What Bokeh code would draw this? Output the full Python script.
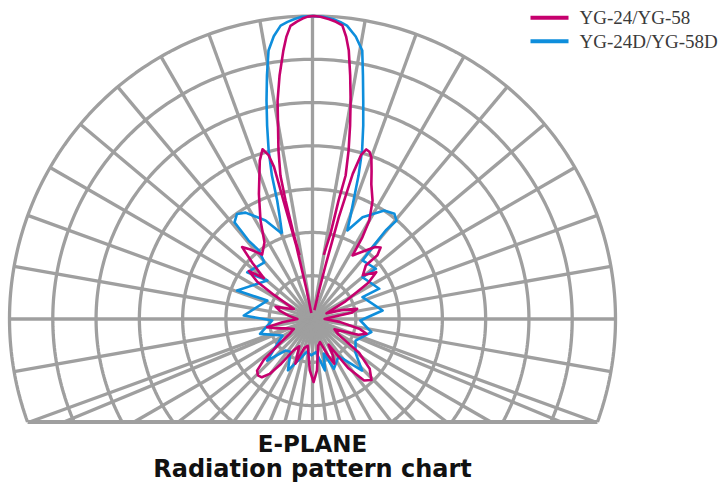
import numpy as np
from bokeh.plotting import figure
from bokeh.models import Range1d, Label
from bokeh.embed import file_html
from bokeh.resources import INLINE

# ---------------- data ----------------
series_names = ["YG-24/YG-58", "YG-24D/YG-58D"]
series_colors = ["#C6006E", "#0E8EDC"]
ring_levels = [1, 2, 3, 4, 5, 6, 7]                        # concentric rings (7 = outer)
spoke_angles_upper = list(range(-20, 201, 10))             # radial lines, 10 deg apart
spoke_angles_lower = [202.5 + 7.5 * k for k in range(19)]  # denser fan towards the base line
title_lines = ["E-PLANE", "Radiation pattern chart"]

# (angle in degrees, 90 = boresight ; level in % of full scale), in drawing order
mag_main_theta = [101.5, 102.5, 102.8, 102.6, 101.4, 100.1, 99.1, 97.7, 96.2, 95.3, 94.3, 93.0, 91.9, 90.9, 89.7,
                  88.5, 86.8, 85.5, 84.2, 83.2, 82.3, 81.2, 80.1, 79.0, 77.9, 77.0, 77.6, 78.1, 80.0]
mag_main_r = [21.5, 28.9, 40.1, 48.5, 56.8, 64.9, 72.9, 81.1, 89.1, 93.5, 97.0, 98.3, 99.2, 99.8, 100.0,
              99.8, 99.1, 98.4, 97.4, 93.8, 89.4, 81.3, 73.2, 65.0, 56.8, 48.6, 40.0, 28.7, 21.5]

mag_side_theta = [78, 77, 76.4, 75.5, 74.5, 73.5, 72.4, 71.2, 70, 68.2, 66.4, 63.1, 60, 58.6, 57.8,
                  53, 49, 46.4, 44.5, 45.1, 41, 36.3, 33, 28, 22, 17, 12.8, 9, 5, 0, -6, -12, -15.3, -19, -25,
                  -31, -36, -41, -46, -50, -54, -58, -61, -64, -67, -72, -78, -85, -89, -93, -100, -106, -111,
                  -116, -121, -125, -128, -131, -134, -137, -140, -143, -147, -152, -160, -165, -169.7, -174, -180,
                  -188, -194, -198.5, -203, -208, -212, -214, -217, -220, -223, -225.6, -228, -232, -238, -242.2,
                  -246.8, -251.6, -253.6, -255, -255.8, -256.2, -257.5, -258.5, -259]
mag_side_r = [3, 10, 17.5, 34.7, 49.7, 56.5, 58.7, 58.3, 56.8, 52.5, 48.5, 43.8, 37.5, 31.6, 24.8,
              28, 31.5, 32.6, 30, 24.9, 22, 26.1, 22, 12, 5, 10, 15.1, 13, 6, 4, 9, 16, 18.5, 16, 8,
              10, 19, 25, 28, 26.5, 20, 10, 14, 16.4, 13, 8, 9, 17, 20.8, 17, 9, 10, 15.8,
              10, 12, 18, 23, 25.5, 25.9, 25, 21, 14, 9, 7, 9, 12, 15.2, 10, 5,
              8, 11, 12.8, 9, 7, 15, 22, 26.3, 21, 27, 33.2, 31, 27, 29.9, 36.8,
              44.9, 55.1, 58.4, 56, 51.7, 40.3, 25, 10, 2]

blue_theta = [109.6, 107.7, 106.6, 105.8, 104.6, 103.2, 101.9, 100.6, 99.3, 97.8, 96.2, 94.8, 93.4, 92.0, 90, 88.0,
              86.0, 84.6, 83.3, 81.3, 79.5, 78.3, 76.9, 75.3, 73.6, 72.2, 70.9, 69.8, 68.5,
              63.8, 56.5, 52.1, 49.5, 50.4, 50.1, 49.5,
              38.4, 39.9, 24.4, 23.6, 6.9, -1.8, -12.6, -26.6, -38, -46.1,
              -55, -66.8, -72, -76.4, -84, -92, -100, -108, -115.5, -124, -130.6, -137.5, -151.2, -164.2,
              -177.9, -182.9, -202.2, -200.7, -220.4, -215.6, -229.6, -232, -230.8, -231.1, -234.3, -237.8,
              -244.5, -250.4]
blue_r = [29.9, 35.8, 40.8, 49.2, 57.4, 65.6, 73.6, 81.7, 89.8, 94.2, 97.4, 98.4, 99.2, 99.8, 100, 99.8,
          99.2, 98.4, 97.5, 94.3, 90.1, 82.1, 73.9, 66.0, 58.0, 49.7, 41.4, 36.4, 31.4,
          37.4, 42.9, 44.0, 42.7, 38.0, 30.9, 25.4,
          26.7, 21.5, 24.2, 18.0, 23.3, 15.8, 19.9, 15.9, 18, 23.6,
          15, 17.9, 12, 17.5, 11, 12, 11, 14, 18.8, 13, 13.7, 20.3, 11.3, 18.0,
          13.3, 22.7, 16.1, 26.6, 19.6, 26.5, 24.5, 28.7, 33.4, 41.0, 42.7, 41.5,
          36, 29.9]

# ---------------- geometry ----------------
W, H = 727, 484
CX, CY = 312.0, 165.5      # pole of the polar grid (data px)
R = 303.0                  # outer ring radius
D = 103.0                  # depth of the base line below the pole
GRID = "#9F9F9F"

p = figure(width=W, height=H, x_range=Range1d(0, W), y_range=Range1d(0, H),
           output_backend="svg", toolbar_location=None, min_border=0)
p.axis.visible = False
p.grid.visible = False
p.outline_line_color = None

# rings
ring_xs, ring_ys = [], []
for k in ring_levels:
    rr = k / max(ring_levels) * R
    if rr <= D:
        a = np.linspace(0, 2 * np.pi, 241)
    else:
        a0 = np.arcsin(D / rr)
        a = np.linspace(-a0, np.pi + a0, 241)
    ring_xs.append(list(CX + rr * np.cos(a)))
    ring_ys.append(list(CY + rr * np.sin(a)))
p.multi_line(ring_xs, ring_ys, line_color=GRID, line_width=3.3)

# spokes
sp_xs, sp_ys = [], []
for ang in spoke_angles_upper + spoke_angles_lower:
    t = np.deg2rad(ang)
    s = np.sin(t)
    r_end = R if s * R >= -D - 1e-9 else D / (-s)
    r_end = min(r_end, R)
    sp_xs.append([CX, CX + r_end * np.cos(t)])
    sp_ys.append([CY, CY + r_end * np.sin(t)])
p.multi_line(sp_xs, sp_ys, line_color=GRID, line_width=3.3)

# base line
half = np.sqrt(R ** 2 - D ** 2)
p.line([CX - half, CX + half], [CY - D, CY - D], line_color=GRID, line_width=3.8)


def polar(theta, r):
    t = np.deg2rad(np.asarray(theta, dtype=float))
    rr = np.asarray(r, dtype=float) / 100.0 * R
    return CX + rr * np.cos(t), CY + rr * np.sin(t)


bx, by = polar(blue_theta + blue_theta[:1], blue_r + blue_r[:1])
p.line(bx, by, line_color=series_colors[1], line_width=2.6, line_join="round")

mx, my = polar(mag_side_theta, mag_side_r)
p.line(mx, my, line_color=series_colors[0], line_width=2.6, line_join="round")
mx2, my2 = polar(mag_main_theta, mag_main_r)
p.line(mx2, my2, line_color=series_colors[0], line_width=2.6, line_join="round")

# legend
for i, (name, col) in enumerate(zip(series_names, series_colors)):
    ly = 466.7 - i * 23.4
    p.line([530, 568], [ly, ly], line_color=col, line_width=4)
    p.add_layout(Label(x=579, y=ly, text=name, text_font="Liberation Serif", text_font_size="19px",
                       text_baseline="middle", text_color="#3A3A3A"))

# titles
p.add_layout(Label(x=CX, y=28, text=title_lines[0], text_font="DejaVu Sans", text_font_style="bold",
                   text_font_size="23px", text_align="center", text_baseline="bottom", text_color="#111111"))
p.add_layout(Label(x=CX, y=1.5, text=title_lines[1], text_font="DejaVu Sans", text_font_style="bold",
                   text_font_size="24px", text_align="center", text_baseline="bottom", text_color="#111111"))

open("out.html", "w").write(file_html(p, INLINE))
